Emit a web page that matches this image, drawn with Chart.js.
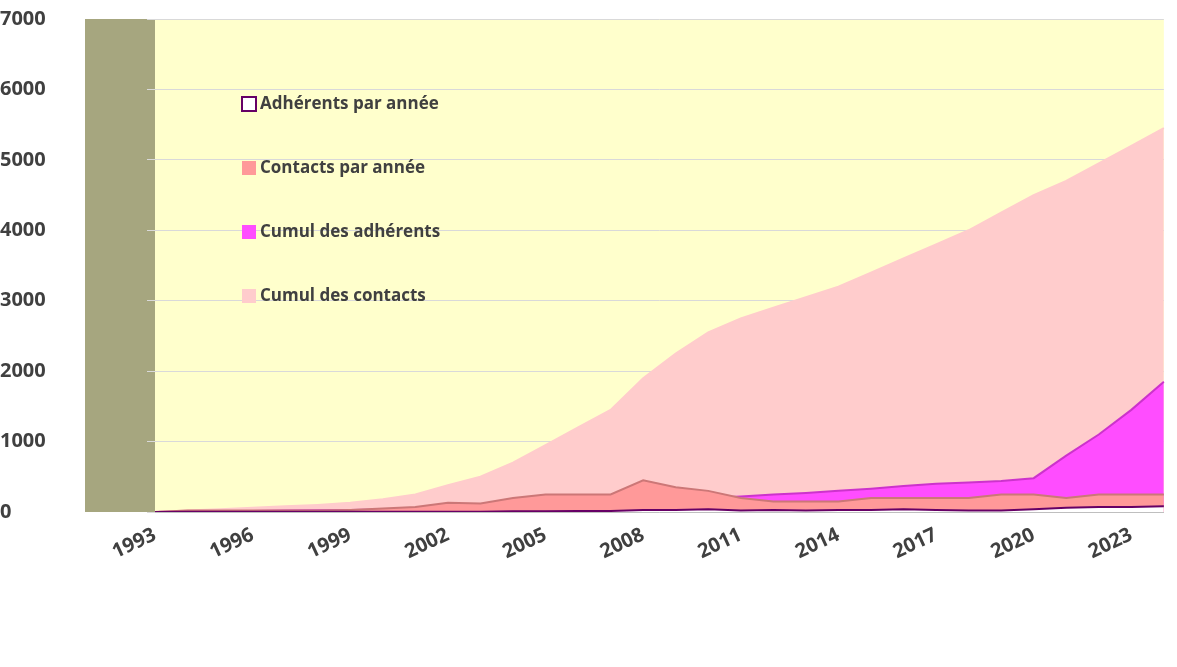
<!DOCTYPE html>
<html><head><meta charset="utf-8">
<script src="https://cdn.jsdelivr.net/npm/chart.js@4/dist/chart.umd.min.js"></script>
<style>html,body{margin:0;background:#fff}#w{width:1177px;height:667px}</style>
</head><body><div id="w"><canvas id="c"></canvas></div>
<script>
const years=[];for(let y=1993;y<=2024;y++)years.push(String(y));
const cumulContacts=[0,20,40,60,80,100,130,180,250,380,500,700,950,1200,1450,1900,2250,2550,2750,2900,3050,3200,3400,3600,3800,4000,4250,4500,4700,4950,5200,5450];
const cumulAdherents=[0,5,10,15,20,25,30,35,40,45,50,60,70,85,100,130,160,200,220,250,270,300,330,370,400,420,440,480,800,1100,1450,1850];
const contactsAnnee=[0,20,20,20,20,20,30,50,70,130,120,200,250,250,250,450,350,300,200,150,150,150,200,200,200,200,250,250,200,250,250,250];
const adherentsAnnee=[0,5,5,5,5,5,5,5,5,5,5,10,10,15,15,30,30,40,20,30,20,30,30,40,30,20,20,40,60,70,70,80];
const yTicks=[0,1000,2000,3000,4000,5000,6000,7000];
const series=[
 {label:'Adhérents par année',data:adherentsAnnee,bg:'#ffffff',bd:'#660066',order:1},
 {label:'Contacts par année',data:contactsAnnee,bg:'#ff9999',bd:'#cc7777',order:2},
 {label:'Cumul des adhérents',data:cumulAdherents,bg:'#ff4dff',bd:'#cc33cc',order:3},
 {label:'Cumul des contacts',data:cumulContacts,bg:'#ffcccc',bd:'#ffcccc',order:4}
];
const bgPlugin={id:'bg',beforeDraw(c){const a=c.chartArea,x=c.ctx;x.save();x.fillStyle='#ffffcc';x.fillRect(a.left,a.top,a.right-a.left,a.bottom-a.top);x.fillStyle='#a6a67f';x.fillRect(a.left-70,a.top,70,a.bottom-a.top);x.restore();},
 afterDraw(c){const x=c.ctx;x.save();x.font='bold 17px "Open Sans",Calibri,sans-serif';x.textBaseline='middle';
  series.forEach((s,i)=>{const yy=104+i*64;x.fillStyle=s.bg;x.strokeStyle=s.bd;x.lineWidth=2;x.fillRect(242,yy-7,14,14);if(i===0)x.strokeRect(242,yy-7,14,14);x.fillStyle='#404040';x.fillText(s.label,260,yy);});x.restore();}};
new Chart(document.getElementById('c'),{type:'line',
 data:{labels:years,datasets:series.map(s=>({label:s.label,data:s.data,backgroundColor:s.bg,borderColor:s.bd,borderWidth:2,fill:'origin',pointRadius:0,tension:0,order:s.order}))},
 options:{responsive:true,maintainAspectRatio:false,animation:false,
  layout:{padding:{left:0,top:19,right:10,bottom:0}},
  plugins:{legend:{display:false},tooltip:{enabled:false}},
  scales:{
   x:{afterFit:a=>{a.height=155;},grid:{display:false},border:{color:'#bfbfbf'},ticks:{autoSkip:false,maxRotation:25,minRotation:25,color:'#404040',font:{size:20,weight:'bold',family:'"Open Sans",Calibri,sans-serif'},callback:(v,i)=>i%3===0?years[i]:''}},
   y:{min:0,max:7000,afterBuildTicks:a=>{a.ticks=yTicks.map(v=>({value:v}));},afterFit:a=>{a.width=155;},grid:{color:'#d9d9d9'},border:{display:false},ticks:{crossAlign:'far',color:'#404040',padding:4,callback:v=>String(v),font:{size:20,weight:'bold',family:'"Open Sans",Calibri,sans-serif'}}}
  }},
 plugins:[bgPlugin]});
</script></body></html>
